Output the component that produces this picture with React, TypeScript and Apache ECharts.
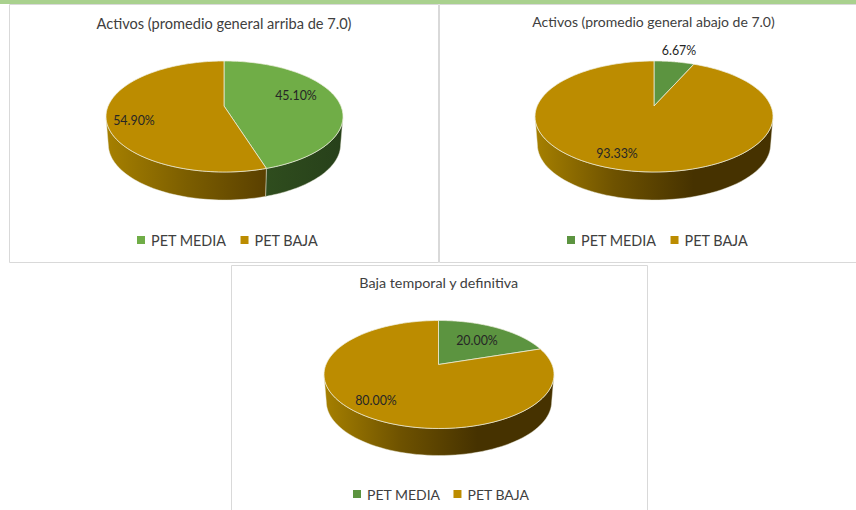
import React, { useEffect, useRef } from "react";
import * as echarts from "echarts";

const categories = ["PET MEDIA", "PET BAJA"];
const titles = [
  "Activos (promedio general arriba de 7.0)",
  "Activos (promedio general abajo de 7.0)",
  "Baja temporal y definitiva",
];
const activosArriba = [45.1, 54.9];
const activosAbajo = [6.67, 93.33];
const bajaTemporal = [20.0, 80.0];

const FONT = "Lato";

const layouts = [
  {
    values: activosArriba,
    frame: [9.5, 4.5, 429, 258],
    apex: [224, 106], cx: 224.5, cy: 116.5, rx: 118.5, ry: 55.5, depth: 28,
    green: "#70AD47",
    sideGreen: ["#2F4D1E", "#27401A"],
    sideGold: ["#A68000", "#7C5E00", "#5A4000"],
    titleX: 224, titleY: 25, titleSize: 14.6,
    legendX: 137, legendY: 233, legendSize: 14.4, legendGap: 14,
    labels: [[296, 95], [134, 120]],
  },
  {
    values: activosAbajo,
    frame: [439.5, 4.5, 420, 258],
    apex: [654, 106], cx: 654, cy: 116.5, rx: 119, ry: 55.5, depth: 28,
    green: "#5C9440",
    sideGreen: ["#2F4D1E", "#27401A"],
    sideGold: ["#A68000", "#6E5200", "#463200", "#463200"],
    titleX: 653.5, titleY: 23, titleSize: 14,
    legendX: 567, legendY: 233, legendSize: 14.4, legendGap: 14,
    labels: [[679, 50], [617, 153]],
  },
  {
    values: bajaTemporal,
    frame: [231.5, 265.5, 416, 250],
    apex: [438.5, 364.5], cx: 439, cy: 374.5, rx: 115, ry: 54, depth: 27,
    green: "#5C9440",
    sideGreen: ["#2F4D1E", "#27401A"],
    sideGold: ["#A68000", "#6E5200", "#463200", "#463200"],
    titleX: 438.7, titleY: 284, titleSize: 14.3,
    legendX: 353, legendY: 487, legendSize: 14, legendGap: 13,
    labels: [[477, 340], [376, 400]],
  },
];

const GOLD = "#BC8C00";

function edgePoint(l: any, t: number) {
  const dx = l.rx * Math.sin(t);
  const dy = -l.ry * Math.cos(t);
  const ox = l.apex[0] - l.cx;
  const oy = l.apex[1] - l.cy;
  const a = (dx * dx) / (l.rx * l.rx) + (dy * dy) / (l.ry * l.ry);
  const b = 2 * ((ox * dx) / (l.rx * l.rx) + (oy * dy) / (l.ry * l.ry));
  const c = (ox * ox) / (l.rx * l.rx) + (oy * oy) / (l.ry * l.ry) - 1;
  const s = (-b + Math.sqrt(b * b - 4 * a * c)) / (2 * a);
  return [l.apex[0] + s * dx, l.apex[1] + s * dy];
}

function makeRender(l: any, idx: number) {
  return (_params: any, api: any) => {
    const value = api.value(0);
    const before = l.values.slice(0, idx).reduce((p: number, q: number) => p + q, 0);
    const t0 = (before / 100) * Math.PI * 2;
    const t1 = ((before + value) / 100) * Math.PI * 2;
    const steps = 120;
    const arc: number[][] = [];
    for (let i = 0; i <= steps; i++) arc.push(edgePoint(l, t0 + ((t1 - t0) * i) / steps));
    const front = arc.filter((p) => p[1] >= l.cy);
    const children: any[] = [];
    if (front.length > 1) {
      const lower = front
        .map((p) => [l.cx + (p[0] - l.cx) * 0.98, p[1] + l.depth])
        .reverse();
      const colors = idx === 0 ? l.sideGreen : l.sideGold;
      children.push({
        type: "polygon",
        shape: { points: [...front, ...lower] },
        style: {
          fill: new echarts.graphic.LinearGradient(
            0, 0, 1, 0,
            colors.map((c: string, i: number) => ({ offset: i / (colors.length - 1), color: c }))
          ),
          stroke: "rgba(235,235,220,0.75)",
          lineWidth: 0.6,
        },
      });
    }
    children.push({
      type: "polygon",
      shape: { points: [l.apex, ...arc] },
      style: {
        fill: idx === 0 ? l.green : GOLD,
        stroke: "rgba(240,240,225,0.9)",
        lineWidth: 0.8,
      },
    });
    children.push({
      type: "text",
      z2: 10,
      style: {
        text: value.toFixed(2) + "%",
        x: l.labels[idx][0],
        y: l.labels[idx][1],
        align: "center",
        verticalAlign: "middle",
        font: `12.4px ${FONT}`,
        fill: "#262626",
      },
    });
    return { type: "group", children };
  };
}

export default function App() {
  const ref = useRef<HTMLDivElement>(null);
  useEffect(() => {
    const chart = echarts.init(ref.current!, null, { renderer: "svg" });
    const series: any[] = [];
    layouts.forEach((l) => {
      categories.forEach((name, idx) => {
        series.push({
          type: "custom",
          name,
          coordinateSystem: "none",
          silent: true,
          itemStyle: { color: idx === 0 ? l.green : GOLD },
          data: [[l.values[idx]]],
          renderItem: makeRender(l, idx),
        });
      });
    });
    chart.setOption({
      animation: false,
      backgroundColor: "#FFFFFF",
      title: layouts.map((l, i) => ({
        text: titles[i],
        left: l.titleX,
        top: l.titleY - 9,
        padding: 0,
        textAlign: "center",
        textStyle: { fontFamily: FONT, fontSize: l.titleSize, fontWeight: "normal", color: "#404040" },
      })),
      legend: layouts.map((l) => ({
        left: l.legendX,
        top: l.legendY,
        orient: "horizontal",
        icon: "rect",
        itemWidth: 8,
        itemHeight: 8,
        itemGap: l.legendGap,
        padding: 0,
        selectedMode: false,
        textStyle: { fontFamily: FONT, fontSize: l.legendSize, color: "#404040", padding: [0, 0, 0, 1] },
        data: categories.map((name, idx) => ({
          name,
          itemStyle: { color: idx === 0 ? l.green : GOLD },
        })),
      })),
      graphic: [
        {
          type: "rect",
          shape: { x: 0, y: 0, width: 856, height: 4 },
          style: { fill: "#A9D18E" },
          z: -1,
        },
        ...layouts.map((l) => ({
          type: "rect",
          shape: { x: l.frame[0], y: l.frame[1], width: l.frame[2], height: l.frame[3] },
          style: { fill: "#FFFFFF", stroke: "#D9D9D9", lineWidth: 1 },
          z: -1,
        })),
      ],
      series,
    });
    return () => chart.dispose();
  }, []);
  return (
    <div
      ref={ref}
      style={{ position: "absolute", left: 0, top: 0, width: 856, height: 510, overflow: "hidden" }}
    />
  );
}
